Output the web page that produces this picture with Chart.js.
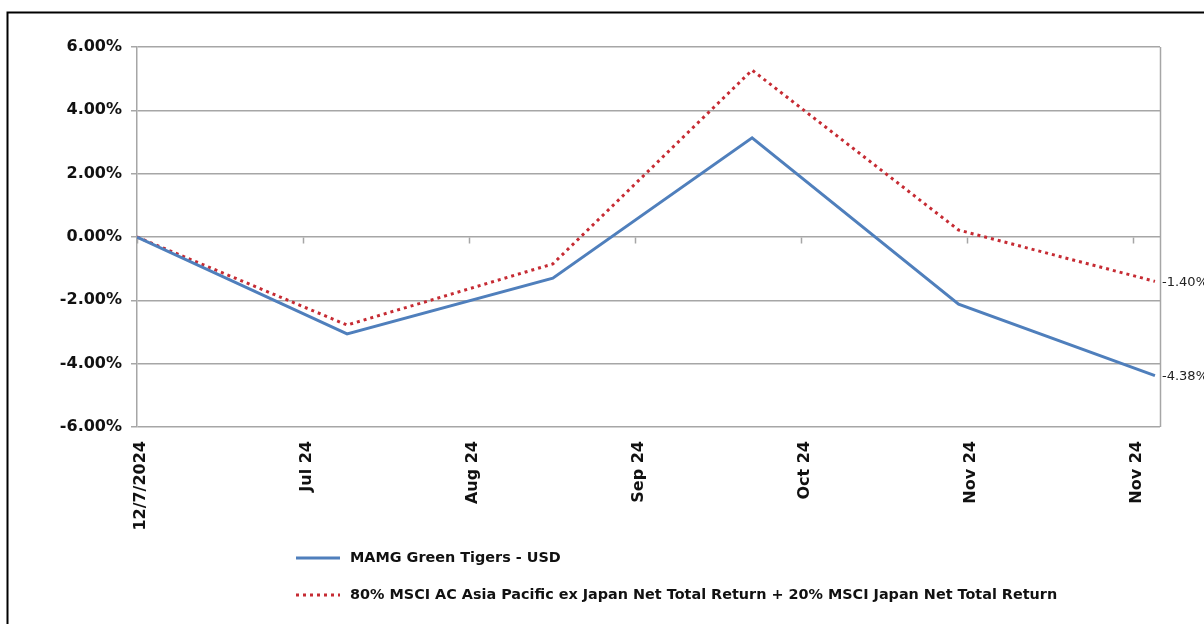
<!DOCTYPE html>
<html><head><meta charset="utf-8">
<script src="https://cdn.jsdelivr.net/npm/chart.js@4.4.1/dist/chart.umd.min.js"></script>
<style>html,body{margin:0;padding:0;background:#fff;overflow:hidden}
#wrap{position:absolute;left:0;top:0;width:1204px;height:624px}
</style></head><body><div id="wrap"><canvas id="c" width="1204" height="624"></canvas></div>
<script>
const seriesNames = ["MAMG Green Tigers - USD", "80% MSCI AC Asia Pacific ex Japan Net Total Return + 20% MSCI Japan Net Total Return"];
const pointDays = [0, 29.1, 57.6, 85.2, 113.8, 141];
const fundValues = [0.00, -3.06, -1.30, 3.13, -2.12, -4.38];
const benchValues = [0.00, -2.78, -0.85, 5.27, 0.22, -1.40];
const tickDays = [0, 23, 46, 69, 92, 115, 138];
const tickLabels = ["12/7/2024", "Jul 24", "Aug 24", "Sep 24", "Oct 24", "Nov 24", "Nov 24"];
const endLabels = ["-4.38%", "-1.40%"];

const FONT = "'DejaVu Sans', sans-serif";
const blue = '#4f7fbc', red = '#c62b33', grid = '#a6a6a6';

const decor = {
  id: 'decor',
  beforeDraw(chart) {
    const ctx = chart.ctx;
    ctx.save();
    ctx.fillStyle = '#fff';
    ctx.fillRect(0, 0, chart.width, chart.height);
    ctx.strokeStyle = '#000';
    ctx.lineWidth = 2;
    ctx.beginPath();
    ctx.moveTo(7.5, chart.height + 2); ctx.lineTo(7.5, 12.5); ctx.lineTo(chart.width + 2, 12.5);
    ctx.stroke();
    ctx.restore();
  },
  beforeDatasetsDraw(chart) {
    const ctx = chart.ctx, a = chart.chartArea;
    const xs = chart.scales.x, ys = chart.scales.y;
    ctx.save();
    ctx.strokeStyle = grid;
    ctx.lineWidth = 1.5;
    ctx.beginPath();
    ctx.moveTo(Math.round(a.right) + 0.5, a.top);
    ctx.lineTo(Math.round(a.right) + 0.5, a.bottom);
    const y0 = Math.round(ys.getPixelForValue(0)) + 0.5;
    tickDays.forEach(d => {
      const x = Math.round(xs.getPixelForValue(d)) + 0.5;
      ctx.moveTo(x, y0); ctx.lineTo(x, y0 + 6);
    });
    ctx.stroke();
    ctx.restore();
  },
  afterDraw(chart) {
    const ctx = chart.ctx, a = chart.chartArea;
    const ys = chart.scales.y;
    ctx.save();
    ctx.font = "13px " + FONT;
    ctx.fillStyle = '#222';
    ctx.textAlign = 'left';
    ctx.textBaseline = 'middle';
    chart.data.datasets.forEach((ds, i) => {
      const v = ds.data[ds.data.length - 1].y;
      ctx.fillText(endLabels[i], a.right + 2, ys.getPixelForValue(v) + 1);
    });
    const rows = [558, 595];
    ctx.font = "bold 14.4px " + FONT;
    ctx.fillStyle = '#111';
    chart.data.datasets.forEach((ds, i) => {
      const y = rows[i];
      ctx.strokeStyle = ds.borderColor;
      ctx.lineWidth = 3;
      ctx.setLineDash(ds.borderDash || []);
      ctx.beginPath();
      ctx.moveTo(296, y); ctx.lineTo(340, y);
      ctx.stroke();
      ctx.setLineDash([]);
      ctx.fillText(ds.label, 350, y);
    });
    ctx.restore();
  }
};

new Chart(document.getElementById('c'), {
  type: 'line',
  data: {
    datasets: [
      { label: seriesNames[0], data: pointDays.map((d, i) => ({ x: d, y: fundValues[i] })),
        borderColor: blue, borderWidth: 3, pointRadius: 0, tension: 0, fill: false },
      { label: seriesNames[1], data: pointDays.map((d, i) => ({ x: d, y: benchValues[i] })),
        borderColor: red, borderWidth: 3, borderDash: [3, 4], pointRadius: 0, tension: 0, fill: false }
    ]
  },
  options: {
    responsive: false,
    animation: false,
    devicePixelRatio: 1,
    layout: { padding: { left: 0, top: 47, right: 44, bottom: 0 } },
    plugins: { legend: { display: false }, tooltip: { enabled: false } },
    scales: {
      x: {
        type: 'linear', min: 0, max: 141.7,
        afterBuildTicks: s => { s.ticks = tickDays.map(v => ({ value: v })); },
        afterFit: s => { s.height = 197; },
        grid: { display: false, drawTicks: false },
        border: { display: false },
        ticks: {
          autoSkip: false, minRotation: 90, maxRotation: 90, padding: 14, labelOffset: 4,
          color: '#111', font: { family: FONT, size: 16, weight: 'bold' },
          callback: v => tickLabels[tickDays.indexOf(v)]
        }
      },
      y: {
        min: -6, max: 6,
        afterFit: s => { s.width = 137; },
        grid: { color: grid, lineWidth: 1.5, tickLength: 6, drawTicks: true },
        border: { display: true, color: grid, width: 1.5 },
        ticks: {
          stepSize: 2, padding: 9, color: '#111',
          font: { family: FONT, size: 16, weight: 'bold' },
          callback: v => v.toFixed(2) + '%'
        }
      }
    }
  },
  plugins: [decor]
});
</script></body></html>
